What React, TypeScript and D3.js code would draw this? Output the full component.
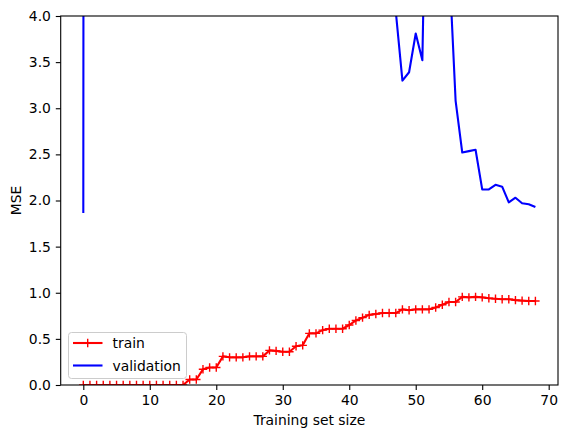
import React, { useEffect, useRef } from "react";
import * as d3 from "d3";

// training set sizes 0..68
const sizes: number[] = d3.range(0, 69);

// training error per size
const trainErr: number[] = [
  0, 0, 0, 0, 0, 0, 0, 0, 0, 0,
  0, 0, 0, 0, 0, 0, 0.06, 0.06, 0.17, 0.19,
  0.19, 0.31, 0.3, 0.3, 0.3, 0.31, 0.31, 0.31, 0.375, 0.37,
  0.36, 0.36, 0.42, 0.43, 0.56, 0.56, 0.595, 0.61, 0.61, 0.61,
  0.65, 0.7, 0.73, 0.76, 0.77, 0.78, 0.78, 0.78, 0.82, 0.81,
  0.82, 0.82, 0.82, 0.84, 0.87, 0.9, 0.9, 0.955, 0.95, 0.955,
  0.95, 0.94, 0.935, 0.93, 0.93, 0.92, 0.915, 0.91, 0.91,
];

// validation error per size (mostly far above the visible range)
const valErr: number[] = [
  1.865, 120, 95, 80, 70, 60, 55, 50, 45, 40,
  38, 35, 33, 30, 28, 26, 25, 24, 22, 20,
  19, 18, 17, 16, 15, 14, 13, 12, 11.5, 11,
  10.5, 10, 9.5, 9, 8.5, 8, 7.8, 7.5, 7.2, 7,
  6.8, 6.5, 6.2, 6, 5.8, 5.6, 60, 4.05, 3.3, 3.39,
  3.81, 3.52, 7.5, 6.5, 5.5, 4.61, 3.08, 2.52, 2.535, 2.55,
  2.12, 2.12, 2.17, 2.15, 1.98, 2.03, 1.97, 1.96, 1.93,
];

const xTicks: number[] = [0, 10, 20, 30, 40, 50, 60, 70];
const yTicks: number[] = [0, 0.5, 1, 1.5, 2, 2.5, 3, 3.5, 4];

const W = 567;
const H = 438;
const FONT = "DejaVu Sans, sans-serif";

const App = () => {
  const ref = useRef<SVGSVGElement>(null);

  useEffect(() => {
    const m = { left: 60.7, right: 9, top: 16, bottom: 53 };
    const iw = W - m.left - m.right;
    const ih = H - m.top - m.bottom;

    const svg = d3.select(ref.current);
    svg.selectAll("*").remove();
    svg.attr("width", W).attr("height", H);

    const x = d3.scaleLinear().domain([-3.4, 71.4]).range([0, iw]);
    const y = d3.scaleLinear().domain([0, 4]).range([ih, 0]);

    svg.append("defs")
      .append("clipPath")
      .attr("id", "plotclip")
      .append("rect")
      .attr("width", iw)
      .attr("height", ih);

    const g = svg.append("g").attr("transform", `translate(${m.left},${m.top})`);

    const line = d3
      .line<number>()
      .x((d, i) => x(sizes[i]))
      .y((d) => y(d));

    const plot = g.append("g").attr("clip-path", "url(#plotclip)");

    plot.append("path")
      .datum(trainErr)
      .attr("d", line)
      .attr("fill", "none")
      .attr("stroke", "red")
      .attr("stroke-width", 2.1)
      .attr("stroke-linejoin", "round");

    // plus markers
    const s = 4.2;
    plot.selectAll("path.mk")
      .data(trainErr)
      .enter()
      .append("path")
      .attr("class", "mk")
      .attr("d", (d, i) => {
        const cx = x(sizes[i]);
        const cy = y(d);
        return `M${cx - s},${cy}H${cx + s}M${cx},${cy - s}V${cy + s}`;
      })
      .attr("stroke", "red")
      .attr("stroke-width", 1.4);

    plot.append("path")
      .datum(valErr)
      .attr("d", line)
      .attr("fill", "none")
      .attr("stroke", "blue")
      .attr("stroke-width", 2.1)
      .attr("stroke-linejoin", "round");

    // axes
    const xa = g.append("g")
      .attr("transform", `translate(0,${ih})`)
      .call(d3.axisBottom(x).tickValues(xTicks).tickSize(4.9).tickPadding(4.9).tickFormat(d3.format("d")));
    const ya = g.append("g")
      .call(d3.axisLeft(y).tickValues(yTicks).tickSize(4.9).tickPadding(4.9).tickFormat(d3.format(".1f")));
    [xa, ya].forEach((a) => {
      a.select(".domain").remove();
      a.selectAll("line").attr("stroke", "black").attr("stroke-width", 1.1);
      a.selectAll("text")
        .attr("fill", "black")
        .style("font-family", FONT)
        .style("font-size", "13.9px");
    });

    // frame
    g.append("rect")
      .attr("width", iw)
      .attr("height", ih)
      .attr("fill", "none")
      .attr("stroke", "black")
      .attr("stroke-width", 1.1);

    svg.append("text")
      .attr("x", m.left + iw / 2)
      .attr("y", 425)
      .attr("text-anchor", "middle")
      .style("font-family", FONT)
      .style("font-size", "13.9px")
      .text("Training set size");

    svg.append("text")
      .attr("transform", `translate(21,${m.top + ih / 2}) rotate(-90)`)
      .attr("text-anchor", "middle")
      .style("font-family", FONT)
      .style("font-size", "13.9px")
      .text("MSE");

    // legend
    const lg = svg.append("g").attr("transform", "translate(68.5,332.5)");
    lg.append("rect")
      .attr("width", 118)
      .attr("height", 46)
      .attr("rx", 3)
      .attr("fill", "white")
      .attr("fill-opacity", 0.8)
      .attr("stroke", "#cccccc")
      .attr("stroke-width", 1);
    const items = [
      { label: "train", color: "red", plus: true },
      { label: "validation", color: "blue", plus: false },
    ];
    items.forEach((it, i) => {
      const ly = 10.5 + i * 22.5;
      lg.append("line")
        .attr("x1", 4.5)
        .attr("x2", 34)
        .attr("y1", ly)
        .attr("y2", ly)
        .attr("stroke", it.color)
        .attr("stroke-width", 2.1);
      if (it.plus) {
        lg.append("path")
          .attr("d", `M${19.2 - s},${ly}H${19.2 + s}M19.2,${ly - s}V${ly + s}`)
          .attr("stroke", it.color)
          .attr("stroke-width", 1.4);
      }
      lg.append("text")
        .attr("x", 44)
        .attr("y", ly + 5)
        .style("font-family", FONT)
        .style("font-size", "13.9px")
        .text(it.label);
    });
  }, []);

  return (
    <svg ref={ref} style={{ position: "absolute", left: 0, top: 0 }}></svg>
  );
};

export default App;
